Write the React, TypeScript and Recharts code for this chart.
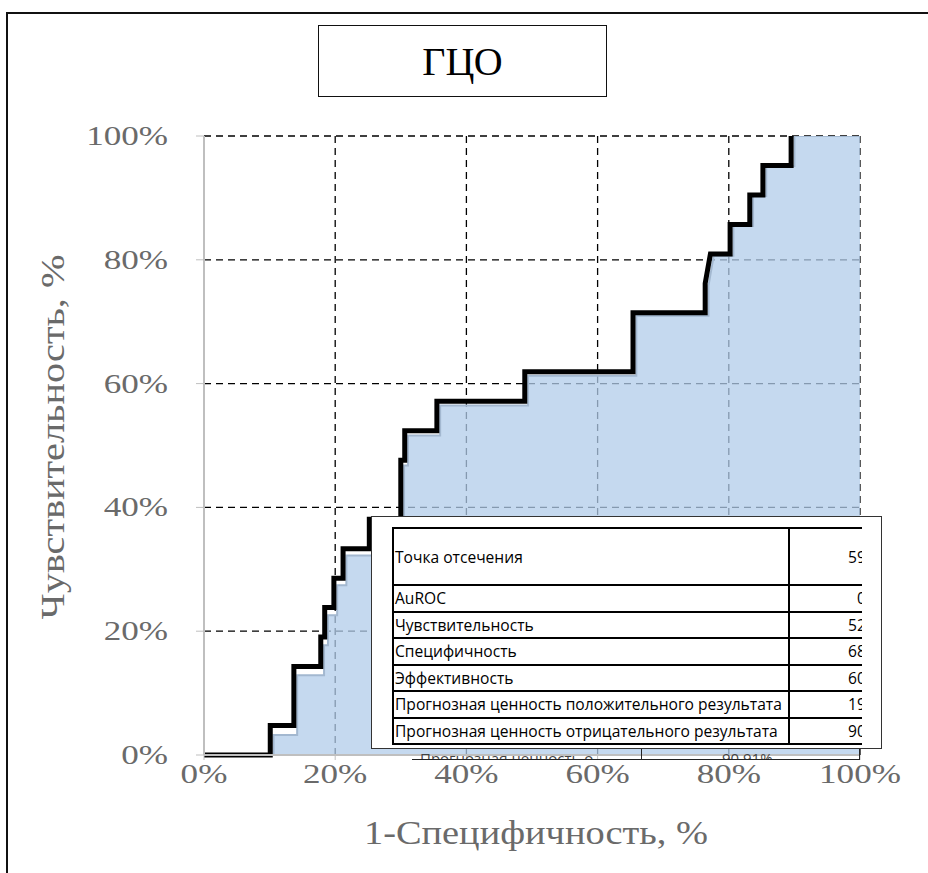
import React from 'react';
import { ComposedChart, Line, Area, XAxis, YAxis, CartesianGrid } from 'recharts';

// ROC curve corners, 1-specificity (%) and sensitivity (%)
const fprValues = [
  0, 10.1, 10.1, 13.7, 13.7, 17.8, 17.8, 18.4, 18.4, 19.8, 19.8, 21.2, 21.2, 25.2, 25.2, 30.0, 30.0, 30.6, 30.6,
  35.5, 35.5, 48.9, 48.9, 65.4, 65.4, 76.4, 76.4, 77.2, 80.2, 80.2, 83.2, 83.2, 85.2, 85.2, 89.5, 89.5, 100,
];
const tprValues = [
  0, 0, 4.76, 4.76, 14.29, 14.29, 19.05, 19.05, 23.81, 23.81, 28.57, 28.57, 33.33, 33.33, 38.1, 38.1, 47.62, 47.62,
  52.38, 52.38, 57.14, 57.14, 61.9, 61.9, 71.43, 71.43, 76.19, 80.95, 80.95, 85.71, 85.71, 90.48, 90.48, 95.24, 95.24,
  100, 100,
];

const axisTicks = [0, 20, 40, 60, 80, 100];
const gridValues = [20, 40, 60, 80, 100];

const statLabels = [
  'Точка отсечения',
  'AuROC',
  'Чувствительность',
  'Специфичность',
  'Эффективность',
  'Прогнозная ценность положительного результата',
  'Прогнозная ценность отрицательного результата',
];
const statValues = ['59', '0', '52', '68', '60', '19', '90'];

const rocData = fprValues.map((fpr, i) => ({ fpr, tpr: tprValues[i] }));
// the black curve stops where it reaches 100%, the shaded area runs on to the corner
const lineData = rocData.slice(0, -1);

const SERIF = "'Liberation Serif', 'Times New Roman', serif";
const TABLE_FONT = "'Open Sans', 'Noto Sans', sans-serif";
const GREY_TEXT = '#6a6a6a';

const YTick = ({ x, y, payload }: any) => (
  <g transform={`translate(${x},${y})`}>
    <text transform="scale(1.3,1)" textAnchor="end" dominantBaseline="central" fill={GREY_TEXT} fontSize={27} fontFamily={SERIF}>
      {payload.value}%
    </text>
  </g>
);

const XTick = ({ x, y, payload }: any) => (
  <g transform={`translate(${x},${y})`}>
    <text transform="scale(1.3,1)" textAnchor="middle" dominantBaseline="central" fill={GREY_TEXT} fontSize={27} fontFamily={SERIF}>
      {payload.value}%
    </text>
  </g>
);

const YTitle = () => (
  <text
    x={53}
    y={437}
    transform="rotate(-90 53 437)"
    textAnchor="middle"
    dominantBaseline="central"
    fill={GREY_TEXT}
    fontSize={33}
    fontFamily={SERIF}
    textLength={365}
    lengthAdjust="spacingAndGlyphs"
  >
    Чувствительность, %
  </text>
);

const XTitle = () => (
  <text
    x={536}
    y={833}
    textAnchor="middle"
    dominantBaseline="central"
    fill={GREY_TEXT}
    fontSize={33}
    fontFamily={SERIF}
    textLength={344}
    lengthAdjust="spacingAndGlyphs"
  >
    1-Специфичность, %
  </text>
);

const cellBorder = '2px solid #000';

const StatsTable = () => (
  <>
    {/* edge of a second table peeking out underneath */}
    <div
      style={{
        position: 'absolute',
        left: 412,
        top: 748,
        width: 448,
        height: 12,
        overflow: 'hidden',
        borderBottom: '1.5px solid #222',
        boxSizing: 'border-box',
        fontFamily: TABLE_FONT,
        fontSize: 15,
        lineHeight: '10px',
        color: '#444',
      }}
    >
      <div style={{ position: 'absolute', left: 8, top: 5, whiteSpace: 'nowrap' }}>Прогнозная ценность о</div>
      <div style={{ position: 'absolute', left: 229, top: 0, width: 219, height: 12, borderLeft: '1.5px solid #222', borderRight: '1.5px solid #222', boxSizing: 'border-box' }}>
        <div style={{ position: 'absolute', left: 80, top: 5 }}>90,91%</div>
      </div>
    </div>
    <div
      style={{
        position: 'absolute',
        left: 371,
        top: 516,
        width: 511,
        height: 233,
        background: '#fff',
        border: '1.5px solid #333',
        boxSizing: 'border-box',
      }}
    >
      <div style={{ position: 'absolute', left: 20, top: 10, width: 470, overflow: 'hidden' }}>
        <table style={{ borderCollapse: 'collapse', tableLayout: 'fixed', width: 560, fontFamily: TABLE_FONT, fontSize: 15.6, color: '#000' }}>
          <colgroup>
            <col style={{ width: 396 }} />
            <col style={{ width: 164 }} />
          </colgroup>
          <tbody>
            {statLabels.map((label, i) => (
              <tr key={label} style={{ height: i === 0 ? 57 : 26.5 }}>
                <td style={{ border: cellBorder, padding: '0 1px', whiteSpace: 'nowrap', lineHeight: '20px' }}>{label}</td>
                <td style={{ border: cellBorder, padding: i === 1 ? '0 0 0 67px' : '0 0 0 58px', whiteSpace: 'nowrap', lineHeight: '20px' }}>
                  {statValues[i]}
                </td>
              </tr>
            ))}
          </tbody>
        </table>
      </div>
    </div>
  </>
);

export default function App() {
  return (
    <div style={{ position: 'absolute', left: 0, top: 0, width: 928, height: 873, overflow: 'hidden', background: '#fff' }}>
      {/* outer frame */}
      <div style={{ position: 'absolute', left: 6, top: 12, width: 960, height: 900, borderTop: '2px solid #111', borderLeft: '2px solid #111' }} />
      {/* title box */}
      <div
        style={{
          position: 'absolute',
          left: 318,
          top: 25,
          width: 289,
          height: 72,
          border: '1.5px solid #111',
          boxSizing: 'border-box',
          display: 'flex',
          alignItems: 'center',
          justifyContent: 'center',
          fontFamily: SERIF,
          fontSize: 40,
          color: '#000',
        }}
      >
        ГЦО
      </div>
      <div style={{ position: 'absolute', left: 0, top: 0 }}>
        <ComposedChart width={928} height={873} margin={{ top: 136, right: 68, bottom: 78, left: 0 }}>
          <CartesianGrid stroke="#000" strokeWidth={1.3} strokeDasharray="7 5" horizontalValues={gridValues} verticalValues={gridValues} />
          <XAxis
            dataKey="fpr"
            type="number"
            domain={[0, 100]}
            ticks={axisTicks}
            tick={<XTick />}
            tickSize={5}
            tickMargin={14}
            tickLine={{ stroke: '#bfbfbf' }}
            axisLine={{ stroke: '#bfbfbf', strokeWidth: 2 }}
            height={40}
            label={{ content: <XTitle /> }}
          />
          <YAxis
            type="number"
            domain={[0, 100]}
            ticks={axisTicks}
            tick={<YTick />}
            tickSize={8}
            tickMargin={28}
            tickLine={{ stroke: '#bfbfbf' }}
            axisLine={{ stroke: '#bfbfbf', strokeWidth: 2 }}
            width={204}
            label={{ content: <YTitle /> }}
          />
          {/* shading sits a few pixels right of and below the curve */}
          <XAxis xAxisId="fill" dataKey="fpr" type="number" domain={[-0.5, 99.5]} allowDataOverflow hide />
          <YAxis yAxisId="fill" type="number" domain={[1.6, 100]} allowDataOverflow hide />
          <Area
            data={rocData}
            xAxisId="fill"
            yAxisId="fill"
            dataKey="tpr"
            type="linear"
            fill="#b2ccea"
            fillOpacity={0.75}
            stroke="#a3b8d0"
            strokeWidth={2}
            isAnimationActive={false}
          />
          <Line
            data={lineData}
            dataKey="tpr"
            type="linear"
            stroke="#000"
            strokeWidth={5}
            strokeLinejoin="miter"
            dot={false}
            activeDot={false}
            isAnimationActive={false}
          />
        </ComposedChart>
      </div>
      <StatsTable />
    </div>
  );
}
